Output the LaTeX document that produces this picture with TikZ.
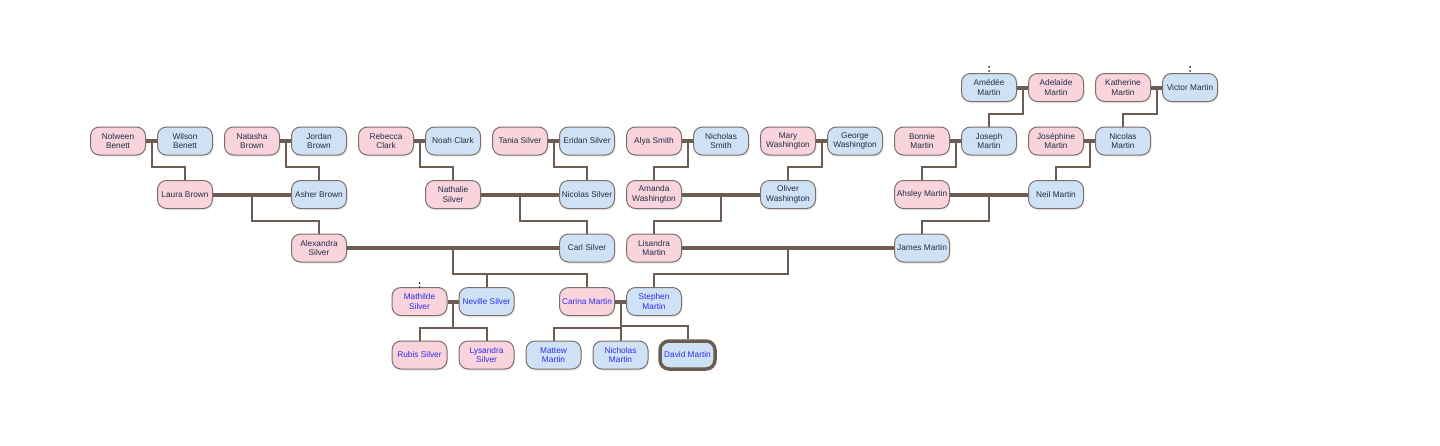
\documentclass[tikz,border=0pt]{standalone}
\usepackage{fontspec}
\setmainfont{Liberation Sans}
\usetikzlibrary{calc,shadows}
\definecolor{pinkf}{RGB}{249,212,220}
\definecolor{bluef}{RGB}{207,226,245}
\definecolor{bord}{RGB}{125,110,105}
\definecolor{linec}{RGB}{108,92,82}
\definecolor{txt}{RGB}{35,45,70}
\definecolor{txtb}{RGB}{45,45,235}
\begin{document}
\begin{tikzpicture}[x=1pt,y=-1pt,
 person/.style={draw=bord, line width=1pt, rounded corners=9pt, minimum width=55pt, minimum height=28pt, inner sep=1pt, align=center, font=\fontsize{8.3}{9.5}\selectfont, text=txt, drop shadow={opacity=0.12, shadow xshift=1pt, shadow yshift=-2pt}},
 fem/.style={person, fill=pinkf},
 mal/.style={person, fill=bluef},
 hl/.style={text=txtb},
 couple/.style={draw=linec, line width=4pt},
 kid/.style={draw=linec, line width=2pt},
 sel/.style={line width=3.5pt, draw=linec},
 dotm/.style={fill=txt},
]
\useasboundingbox (0,0) rectangle (1440,445);
% row 0
\node[mal] (ame) at (989,87.5) {Amédée\\Martin};
\node[fem] (ade) at (1056,87.5) {Adelaïde\\Martin};
\node[fem] (kat) at (1123,87.5) {Katherine\\Martin};
\node[mal] (vic) at (1190,87.5) {Victor Martin};
% row 1
\node[fem] (nol) at (118,141) {Nolween\\Benett};
\node[mal] (wil) at (185,141) {Wilson\\Benett};
\node[fem] (nat) at (252,141) {Natasha\\Brown};
\node[mal] (jor) at (319,141) {Jordan\\Brown};
\node[fem] (reb) at (386,141) {Rebecca\\Clark};
\node[mal] (noa) at (453,141) {Noah Clark};
\node[fem] (tan) at (520,141) {Tania Silver};
\node[mal] (eri) at (587,141) {Eridan Silver};
\node[fem] (aly) at (654,141) {Alya Smith};
\node[mal] (nsm) at (721,141) {Nicholas\\Smith};
\node[fem] (mar) at (788,141) {Mary\\Washington};
\node[mal] (geo) at (855,141) {George\\Washington};
\node[fem] (bon) at (922,141) {Bonnie\\Martin};
\node[mal] (jos) at (989,141) {Joseph\\Martin};
\node[fem] (jse) at (1056,141) {Joséphine\\Martin};
\node[mal] (nma) at (1123,141) {Nicolas\\Martin};
% row 2
\node[fem] (lau) at (185,194.5) {Laura Brown};
\node[mal] (ash) at (319,194.5) {Asher Brown};
\node[fem] (nth) at (453,194.5) {Nathalie\\Silver};
\node[mal] (nsi) at (587,194.5) {Nicolas Silver};
\node[fem] (ama) at (654,194.5) {Amanda\\Washington};
\node[mal] (oli) at (788,194.5) {Oliver\\Washington};
\node[fem] (ahs) at (922,194.5) {Ahsley Martin};
\node[mal] (nei) at (1056,194.5) {Neil Martin};
% row 3
\node[fem] (ale) at (319,248) {Alexandra\\Silver};
\node[mal] (car) at (587,248) {Carl Silver};
\node[fem] (lis) at (654,248) {Lisandra\\Martin};
\node[mal] (jam) at (922,248) {James Martin};
% row 4
\node[fem,hl] (mat) at (419.5,301.5) {Mathilde\\Silver};
\node[mal,hl] (nev) at (486.5,301.5) {Neville Silver};
\node[fem,hl] (cri) at (587,301.5) {Carina Martin};
\node[mal,hl] (ste) at (654,301.5) {Stephen\\Martin};
% row 5
\node[fem,hl] (rub) at (419.5,355) {Rubis Silver};
\node[fem,hl] (lys) at (486.5,355) {Lysandra\\Silver};
\node[mal,hl] (mtw) at (553.5,355) {Mattew\\Martin};
\node[mal,hl] (nic) at (620.5,355) {Nicholas\\Martin};
\node[mal,hl,sel] (dav) at (687.5,355) {David Martin};
% markers
\fill[dotm] (989,67) circle (1) (989,71) circle (1);
\fill[dotm] (1190,67) circle (1) (1190,71) circle (1);
\fill[dotm] (419.5,283) circle (1) (419.5,287) circle (1);
% couples
\foreach \a/\b in {ame/ade,kat/vic,nol/wil,nat/jor,reb/noa,tan/eri,aly/nsm,mar/geo,bon/jos,jse/nma,lau/ash,nth/nsi,ama/oli,ahs/nei,ale/car,lis/jam,mat/nev,cri/ste}
  \draw[couple] (\a.east) -- (\b.west);
% children
\newcommand\kidline[3]{\draw[kid] ($(#1.east)!.5!(#2.west)$) |- ($(#3.north)+(0,-13)$) -- (#3.north);}
\kidline{ame}{ade}{jos}
\kidline{kat}{vic}{nma}
\kidline{nol}{wil}{lau}
\kidline{nat}{jor}{ash}
\kidline{reb}{noa}{nth}
\kidline{tan}{eri}{nsi}
\kidline{aly}{nsm}{ama}
\kidline{mar}{geo}{oli}
\kidline{bon}{jos}{ahs}
\kidline{jse}{nma}{nei}
\kidline{lau}{ash}{ale}
\kidline{nth}{nsi}{car}
\kidline{ama}{oli}{lis}
\kidline{ahs}{nei}{jam}
\kidline{ale}{car}{nev}
\kidline{ale}{car}{cri}
\kidline{lis}{jam}{ste}
\kidline{mat}{nev}{rub}
\kidline{mat}{nev}{lys}
\kidline{cri}{ste}{mtw}
\kidline{cri}{ste}{nic}
\kidline{cri}{ste}{dav}
\end{tikzpicture}
\end{document}
